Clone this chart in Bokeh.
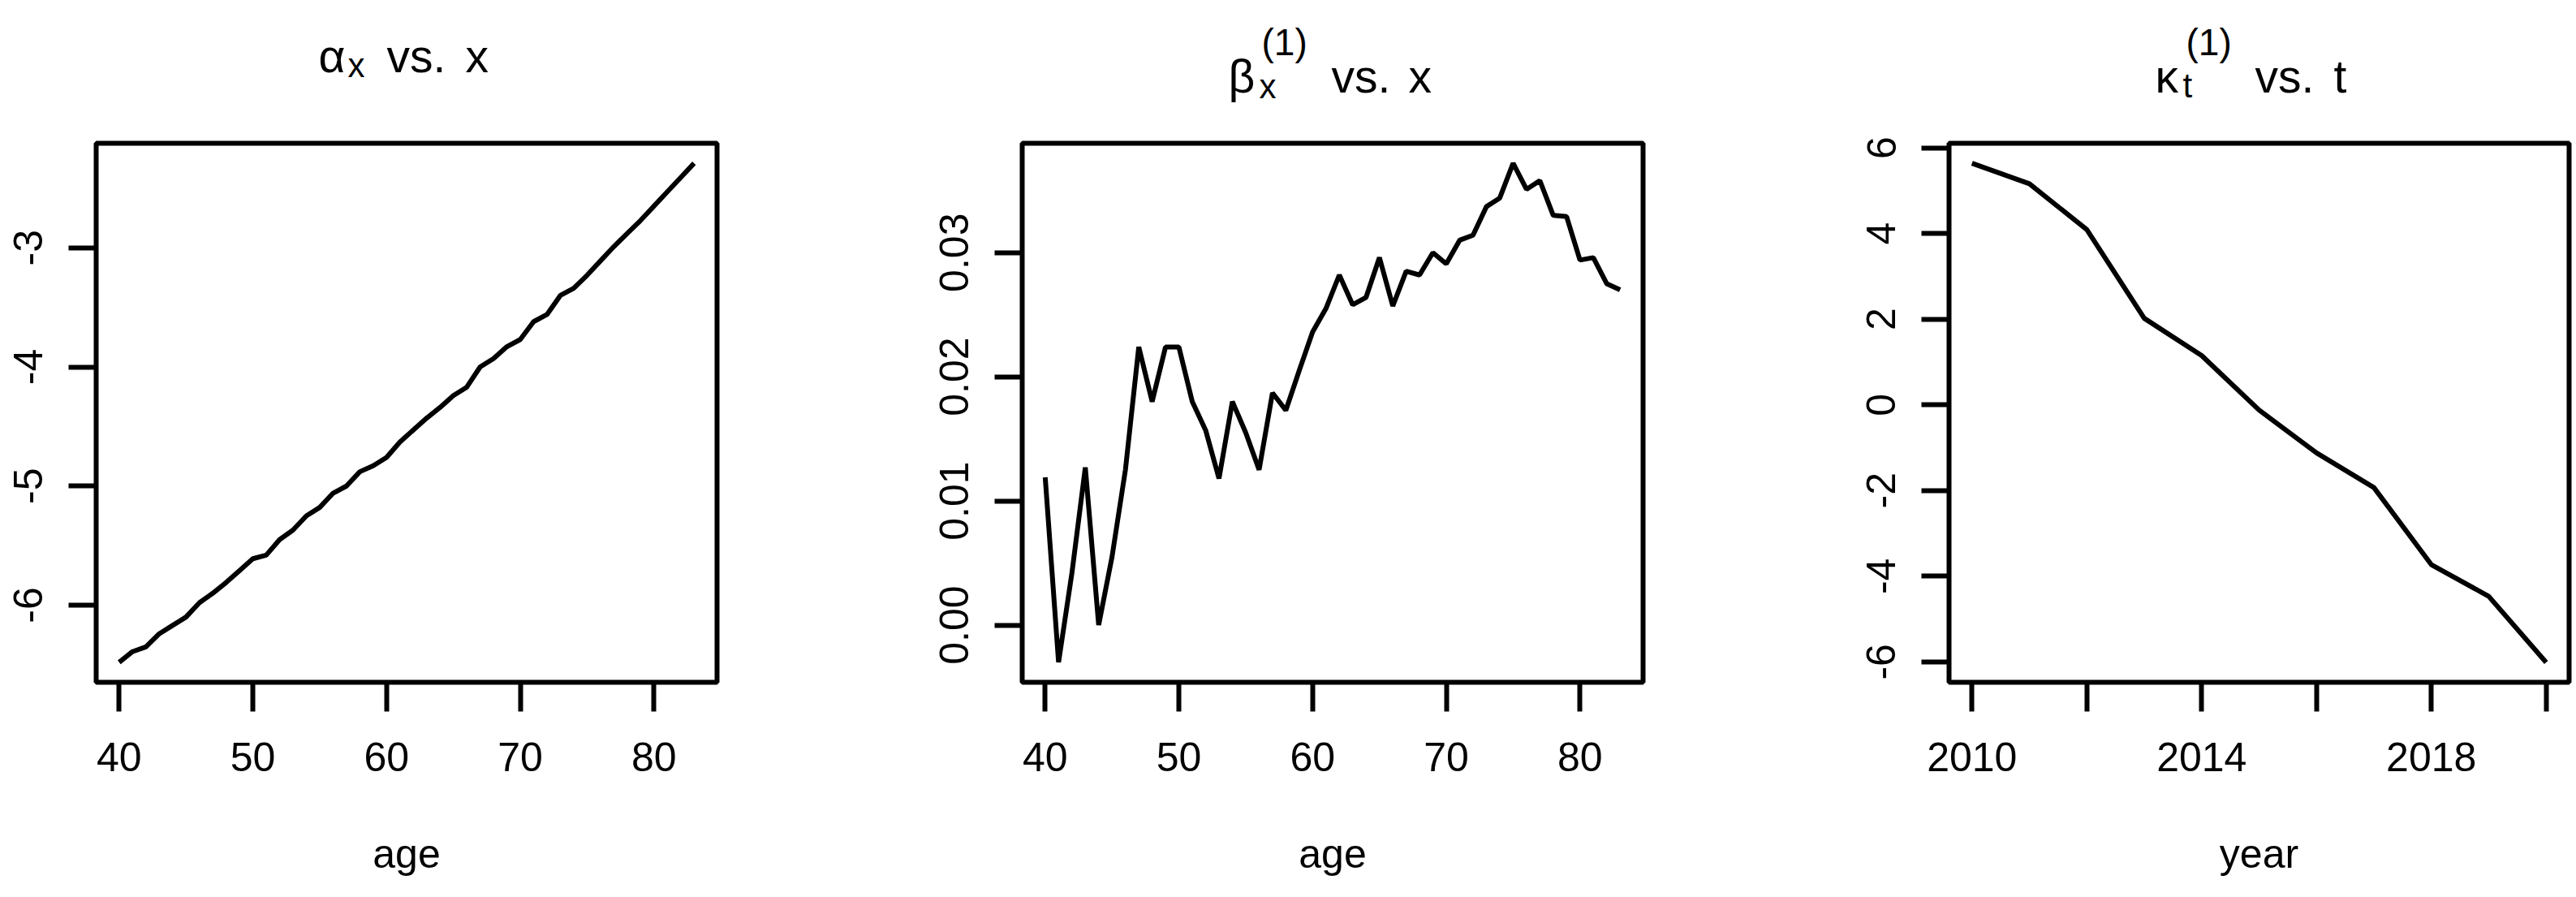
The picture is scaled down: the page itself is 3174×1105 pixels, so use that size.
from bokeh.plotting import figure
from bokeh.layouts import row, column
from bokeh.models import FixedTicker, Range1d
from bokeh.core.properties import value
from bokeh.embed import file_html
from bokeh.resources import INLINE

# ---------------- data ----------------
ages = list(range(40, 84))
alpha_x = [-6.48, -6.39, -6.35, -6.24, -6.17, -6.10, -5.98, -5.90, -5.81, -5.71,
           -5.61, -5.58, -5.45, -5.37, -5.25, -5.18, -5.06, -5.00, -4.88, -4.83,
           -4.76, -4.63, -4.53, -4.43, -4.34, -4.24, -4.17, -4.00, -3.93, -3.83,
           -3.77, -3.62, -3.56, -3.40, -3.34, -3.23, -3.11, -2.99, -2.88, -2.77,
           -2.65, -2.53, -2.41, -2.29]
beta_x = [0.0119, -0.0030, 0.0042, 0.0127, 0.0000, 0.0055, 0.0125, 0.0224, 0.0180, 0.0224,
          0.0224, 0.0180, 0.0157, 0.0118, 0.0180, 0.0155, 0.0125, 0.0187, 0.0173, 0.0205,
          0.0236, 0.0255, 0.0282, 0.0258, 0.0264, 0.0296, 0.0257, 0.0285, 0.0282, 0.0300,
          0.0291, 0.0310, 0.0314, 0.0337, 0.0344, 0.0372, 0.0351, 0.0358, 0.0330, 0.0329,
          0.0294, 0.0296, 0.0275, 0.0270]
years = list(range(2010, 2021))
kappa_t = [5.64, 5.16, 4.09, 2.02, 1.15, -0.12, -1.12, -1.93, -3.73, -4.47, -6.01]

age_ticks = [40, 50, 60, 70, 80]
age_labels = {40: "40", 50: "50", 60: "60", 70: "70", 80: "80"}
alpha_ticks = [-6, -5, -4, -3]
alpha_labels = {-6: "-6", -5: "-5", -4: "-4", -3: "-3"}
beta_ticks = [0.0, 0.01, 0.02, 0.03]
beta_labels = {0.0: "0.00", 0.01: "0.01", 0.02: "0.02", 0.03: "0.03"}
kappa_ticks = [-6, -4, -2, 0, 2, 4, 6]
kappa_labels = {-6: "-6", -4: "-4", -2: "-2", 0: "0", 2: "2", 4: "4", 6: "6"}
year_ticks = [2010, 2012, 2014, 2016, 2018, 2020]
year_labels = {2010: "2010", 2012: "", 2014: "2014", 2016: "", 2018: "2018", 2020: ""}

# title pieces: (text, left x on page, baseline y on page, font size px)
titles = [
    ("α", 392, 68, 57), ("x", 428, 80, 42), ("vs.", 476, 68, 57), ("x", 573, 68, 57),
    ("β", 1513, 93, 57), ("x", 1551, 106, 42), ("(1)", 1554, 51, 46),
    ("vs.", 1640, 93, 57), ("x", 1735, 93, 57),
    ("κ", 2655, 93, 57), ("t", 2689, 105, 42), ("(1)", 2693, 51, 46),
    ("vs.", 2778, 93, 57), ("t", 2875, 93, 57),
]

# ---------------- layout constants ----------------
FONT = "Liberation Sans"
TOTAL_W = 3172
TH = 160            # title strip height
PH = 940            # plot figure height
TOP = 16            # frame top within plot figure
FH = 664            # frame height
BOTTOM = PH - TOP - FH


def r_range(vals):
    lo, hi = min(vals), max(vals)
    d = (hi - lo) * 0.04
    return Range1d(lo - d, hi + d)


def panel(x, y, xticks, xlabels, yticks, ylabels, xlabel, width, left, fw):
    p = figure(width=width, height=PH, x_range=r_range(x), y_range=r_range(y),
               output_backend="svg", toolbar_location=None, title=None,
               min_border_left=left, min_border_right=width - left - fw,
               min_border_top=TOP, min_border_bottom=BOTTOM)
    p.background_fill_color = "white"
    p.border_fill_color = "white"
    p.outline_line_color = "black"
    p.outline_line_width = 6
    p.outline_line_alpha = 1.0
    p.grid.visible = False

    p.line(x, y, line_color="black", line_width=6)

    p.xaxis.ticker = FixedTicker(ticks=xticks, minor_ticks=[])
    p.yaxis.ticker = FixedTicker(ticks=yticks, minor_ticks=[])
    p.xaxis.major_label_overrides = xlabels
    p.yaxis.major_label_overrides = ylabels
    for ax in (p.xaxis[0], p.yaxis[0]):
        ax.axis_line_color = None
        ax.major_tick_line_color = "black"
        ax.major_tick_line_width = 6
        ax.major_tick_in = 0
        ax.minor_tick_line_color = None
        ax.major_label_text_font = FONT
        ax.major_label_text_font_size = "50px"
        ax.major_label_text_color = "black"
        ax.axis_label_text_font = FONT
        ax.axis_label_text_font_size = "50px"
        ax.axis_label_text_font_style = "normal"
        ax.axis_label_text_color = "black"
    p.xaxis.major_tick_out = 36
    p.xaxis.major_label_standoff = 38
    p.xaxis.axis_label = xlabel
    p.xaxis.axis_label_standoff = 71
    p.yaxis.major_tick_out = 34
    p.yaxis.major_label_standoff = 32
    p.yaxis.major_label_orientation = "vertical"
    return p


# title strip: a figure whose data units are page pixels (y downward)
tfig = figure(width=TOTAL_W, height=TH, x_range=Range1d(0, TOTAL_W), y_range=Range1d(TH, 0),
              output_backend="svg", toolbar_location=None, x_axis_type=None, y_axis_type=None,
              title=None, min_border=0)
tfig.outline_line_color = None
tfig.grid.visible = False
tfig.background_fill_color = "white"
tfig.border_fill_color = "white"
for size in sorted(set(t[3] for t in titles)):
    part = [t for t in titles if t[3] == size]
    tfig.text(x=[t[1] for t in part], y=[t[2] for t in part], text=[t[0] for t in part],
              text_font=value(FONT), text_font_size=value(f"{size}px"),
              text_color="black", text_align="left", text_baseline="alphabetic")

W1, W2 = 1058, 1058
W3 = TOTAL_W - W1 - W2

p1 = panel(ages, alpha_x, age_ticks, age_labels, alpha_ticks, alpha_labels, "age", W1, 118, 765)
p2 = panel(ages, beta_x, age_ticks, age_labels, beta_ticks, beta_labels, "age", W2, 201, 765)
p3 = panel(years, kappa_t, year_ticks, year_labels, kappa_ticks, kappa_labels, "year", W3, 285, 764)

layout = column(tfig, row(p1, p2, p3, spacing=0), spacing=0)
open("out.html", "w").write(file_html(layout, INLINE))
